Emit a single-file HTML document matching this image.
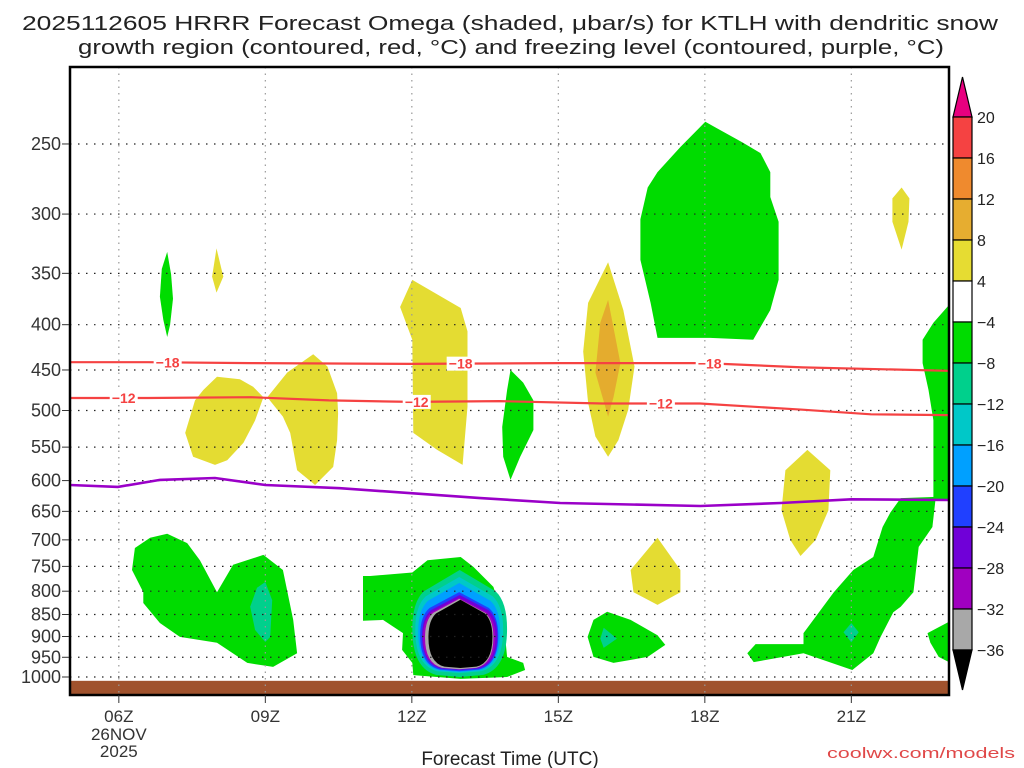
<!DOCTYPE html>
<html><head><meta charset="utf-8"><style>
body{margin:0;background:#fff;}
svg{display:block;font-family:"Liberation Sans",sans-serif;}
</style></head><body>
<svg id="chart" width="1024" height="768" viewBox="0 0 1024 768" xmlns="http://www.w3.org/2000/svg">
<text x="510" y="30" text-anchor="middle" font-size="20" textLength="976" lengthAdjust="spacingAndGlyphs" fill="#222">2025112605 HRRR Forecast Omega (shaded, μbar/s) for KTLH with dendritic snow</text>
<text x="511" y="54" text-anchor="middle" font-size="20" textLength="866" lengthAdjust="spacingAndGlyphs" fill="#222">growth region (contoured, red, °C) and freezing level (contoured, purple, °C)</text>
<g id="plot"></g>
<g id="axes"></g>
<g id="cbar"></g>
<text x="510" y="765" text-anchor="middle" font-size="19" fill="#222">Forecast Time (UTC)</text>
<text x="1015" y="758" text-anchor="end" font-size="15" fill="#e04848" textLength="188" lengthAdjust="spacingAndGlyphs">coolwx.com/models</text>
</svg>
<script>
// ---- data ----
const pressureTicks=[250,300,350,400,450,500,550,600,650,700,750,800,850,900,950,1000];
const timeTicks=[6,9,12,15,18,21];
const timeLabels=["06Z","09Z","12Z","15Z","18Z","21Z"];
const cbarLevels=["20","16","12","8","4","−4","−8","−12","−16","−20","−24","−28","−32","−36"];
const cbarColors=["#f54242","#ef8a2e","#e6ad30","#e6dc32","#ffffff","#00dc00","#00d08c","#00c8c8","#00a0ff","#2040ff","#7000d8","#a000c0","#a8a8a8"];
const surfacePressure=1010;
// omega shaded regions: [hour, hPa]
const yellowRegions=[
 [[8.0,328],[8.14,353],[8.0,368],[7.91,353]],
 [[8.01,458],[8.48,461],[8.75,470],[8.96,483],[8.79,513],[8.55,544],[8.22,569],[7.97,576],[7.52,564],[7.36,530],[7.56,487],[7.73,474]],
 [[9.04,483],[9.45,453],[9.98,432],[10.27,446],[10.47,478],[10.49,504],[10.47,540],[10.39,579],[10.02,607],[9.65,584],[9.51,530],[9.36,508]],
 [[12.01,356],[13.0,383],[13.14,407],[13.14,495],[13.04,576],[12.52,554],[12.03,530],[12.01,416],[11.76,382]],
 [[16.02,340],[16.33,385],[16.56,446],[16.43,499],[16.23,540],[16.02,564],[15.76,535],[15.61,490],[15.51,429],[15.61,378]],
 [[22.03,280],[22.19,288],[22.17,306],[22.03,329],[21.84,306],[21.84,288]],
 [[20.1,554],[20.57,584],[20.53,648],[20.27,700],[19.96,730],[19.75,700],[19.57,648],[19.65,584]],
 [[17.03,696],[17.5,757],[17.5,802],[17.03,829],[16.54,802],[16.48,757]]
];
const orangeRegions=[
 [[16.02,375],[16.27,442],[16.13,483],[16.02,508],[15.76,453],[15.86,398]]
];
const greenRegions=[
 [[6.99,331],[7.07,351],[7.11,374],[7.05,400],[6.99,413],[6.91,395],[6.84,372],[6.88,346]],
 [[14.02,450],[14.28,465],[14.49,487],[14.49,526],[14.22,564],[14.02,599],[13.87,564],[13.85,522],[13.95,474]],
 [[18.01,236],[18.77,249],[19.14,256],[19.34,269],[19.34,287],[19.51,306],[19.51,356],[19.34,385],[18.99,416],[18.11,414],[17.03,414],[16.89,378],[16.68,338],[16.68,304],[16.83,280],[17.03,269],[17.5,252]],
 [[23.0,380],[22.68,398],[22.46,416],[22.46,442],[22.58,474],[22.68,513],[22.68,631],[23.0,631]],
 [[22.01,628],[22.73,626],[22.66,677],[22.38,713],[22.27,802],[22.01,833],[21.86,845],[21.6,901],[21.45,940],[21.02,982],[20.02,940],[19.0,962],[18.87,940],[19.04,918],[20.02,918],[20.02,892],[20.64,802],[21.04,757],[21.45,732],[21.64,677],[21.8,652]],
 [[22.56,892],[23.0,866],[23.0,962],[22.79,949],[22.62,915]],
 [[16.0,844],[16.48,862],[17.03,897],[17.19,920],[16.83,949],[16.13,964],[15.72,949],[15.6,901],[15.72,862]],
 [[6.99,689],[7.4,706],[7.66,738],[8.01,802],[8.34,747],[8.96,728],[9.36,757],[9.57,862],[9.65,940],[9.16,974],[8.63,964],[8.01,915],[7.25,901],[6.84,869],[6.5,825],[6.5,802],[6.27,757],[6.33,715],[6.64,696]],
 [[11.0,769],[11.15,769],[12.01,762],[12.32,738],[13.0,732],[13.26,751],[13.67,791],[13.87,855],[13.95,949],[14.28,964],[14.32,982],[13.95,1000],[13.0,1005],[12.03,995],[12.01,964],[11.8,932],[11.82,892],[11.41,862],[11.0,864]]
];
const tealRegions=[
 [[21.0,869],[21.15,890],[21.0,914],[20.84,890]],
 [[15.93,880],[16.2,905],[15.93,927],[15.86,905]],
 [[9.0,781],[9.14,819],[9.1,901],[9.0,913],[8.79,885],[8.69,833],[8.83,793]]
];
// nested core of strongest ascent near 13Z: [hourLeft, hourRight, pTop, pBottom]
const coreColors=["#00d08c","#00c8c8","#00a0ff","#2040ff","#7000d8","#a000c0","#a8a8a8","#000000"];
const coreLeft=[12.01,12.07,12.13,12.17,12.21,12.23,12.27,12.34];
const coreRight=[13.95,13.87,13.81,13.77,13.75,13.71,13.67,13.65];
const coreTop=[757,771,783,802,808,814,816,818];
const coreBottom=[1000,990,987,985,982,980,980,977];
// contour lines
const iso18Hours=[5,6.6,8.7,12,15,18,20,23];
const iso18P=[441,441,442,443,442,442,447,451];
const iso18Labels=[7.0,13.0,18.1];
const iso12Hours=[5,6.6,8.7,10.3,12,13.8,15.9,17.9,20,21.4,23];
const iso12P=[484,484,483,487,489,488,491,491,499,505,506];
const iso12Labels=[6.1,12.1,17.1];
const frzHours=[5,5.98,6.84,7.97,9,10.53,13.4,15.04,17.91,19.55,21.0,23];
const frzP=[607,610,599,596,607,612,628,636,641,636,630,631];

// ---- scales ----
const X=h=>70+(h-5)*(879/18);
const Y=p=>677-384.5*Math.log(1000/p);
const NS="http://www.w3.org/2000/svg";
function mk(parent,tag,attrs){const e=document.createElementNS(NS,tag);for(const k in attrs)e.setAttribute(k,attrs[k]);parent.appendChild(e);return e;}
const plot=document.getElementById('plot'),axes=document.getElementById('axes'),cbar=document.getElementById('cbar');

function poly(pts,fill,name){
  const e=mk(plot,'polygon',{points:pts.map(q=>X(q[0]).toFixed(1)+','+Y(q[1]).toFixed(1)).join(' '),fill:fill});
  
  
}
yellowRegions.forEach((r,i)=>poly(r,'#e4dc32','omega-positive-4-8-'+i));
orangeRegions.forEach((r,i)=>poly(r,'#e4ac2e','omega-positive-8-12-'+i));
greenRegions.forEach((r,i)=>poly(r,'#00dc00','omega-negative-4-8-'+i));
tealRegions.forEach((r,i)=>poly(r,'#00d08c','omega-negative-8-12-'+i));
coreColors.forEach((c,i)=>{
  const l=X(coreLeft[i]),r=X(coreRight[i]),t=Y(coreTop[i]),b=Y(coreBottom[i]);
  const cx=(l+r)/2,w=r-l,h=b-t;
  const d=`M${cx},${t} L${r-0.12*w},${t+0.2*h} Q${r},${t+0.3*h} ${r},${t+0.55*h} Q${r},${b-0.08*h} ${cx+0.25*w},${b-0.02*h} L${cx},${b} L${cx-0.25*w},${b-0.02*h} Q${l},${b-0.08*h} ${l},${t+0.55*h} Q${l},${t+0.3*h} ${l+0.12*w},${t+0.2*h} Z`;
  const e=mk(plot,'path',{d:d,fill:c});
  
  
});
// ground
const g=mk(plot,'rect',{x:70,y:Y(surfacePressure),width:879,height:695-Y(surfacePressure),fill:'#a0522d'});



// grid
pressureTicks.forEach(p=>{
  const e=mk(plot,'line',{x1:70,x2:949,y1:Y(p),y2:Y(p),stroke:'#222','stroke-width':1.2,'stroke-dasharray':'1.5 6.5'});
  
  
});
timeTicks.forEach(h=>{
  const e=mk(plot,'line',{x1:X(h),x2:X(h),y1:67,y2:695,stroke:'#999','stroke-width':1.2,'stroke-dasharray':'1.5 5'});
  
  
});

// contour lines
function line(hs,ps,color,w,name){
  const e=mk(plot,'polyline',{points:hs.map((h,i)=>X(h).toFixed(1)+','+Y(ps[i]).toFixed(1)).join(' '),fill:'none',stroke:color,'stroke-width':w});
  
  
}
function interp(hs,ps,h){for(let i=0;i<hs.length-1;i++){if(h>=hs[i]&&h<=hs[i+1]){const t=(h-hs[i])/(hs[i+1]-hs[i]);return ps[i]+t*(ps[i+1]-ps[i]);}}return ps[ps.length-1];}
line(iso18Hours,iso18P,'#f54242',2.2,'isotherm-minus-18');
line(iso12Hours,iso12P,'#f54242',2.2,'isotherm-minus-12');
line(frzHours,frzP,'#9a00c8',2.6,'freezing-level');
function labels(hs,ps,list,txt,name){
  list.forEach((h,i)=>{
    const x=X(h),y=Y(interp(hs,ps,h));
    const r=mk(plot,'rect',{x:x-14,y:y-7,width:28,height:14,fill:'#fff'});
    
    
    const t=mk(plot,'text',{x:x,y:y+5,'text-anchor':'middle','font-size':14,'font-weight':'bold',fill:'#f54242'});
    t.textContent=txt;
    
    
  });
}
labels(iso18Hours,iso18P,iso18Labels,'−18','isotherm-minus-18');
labels(iso12Hours,iso12P,iso12Labels,'−12','isotherm-minus-12');

// axes frame
const fr=mk(axes,'rect',{x:70,y:67,width:879,height:628,fill:'none',stroke:'#000','stroke-width':2.5});


pressureTicks.forEach(p=>{
  const tk=mk(axes,'line',{x1:62,x2:69,y1:Y(p),y2:Y(p),stroke:'#333','stroke-width':1});
  
  
  const t=mk(axes,'text',{x:61,y:Y(p)+6,'text-anchor':'end','font-size':18,fill:'#333'});
  t.textContent=p;
  
  
});
timeTicks.forEach((h,i)=>{
  const tk=mk(axes,'line',{x1:X(h),x2:X(h),y1:695,y2:703,stroke:'#333','stroke-width':1});
  
  
  const t=mk(axes,'text',{x:X(h),y:722,'text-anchor':'middle','font-size':17,fill:'#333'});
  t.textContent=timeLabels[i];
  
  
});
[['26NOV',740],['2025',757]].forEach(a=>{
  const t=mk(axes,'text',{x:X(6),y:a[1],'text-anchor':'middle','font-size':17,fill:'#333'});
  t.textContent=a[0];
  
  
});

// colorbar
const cbTop=117,cbStep=41,cbX=953,cbW=19;
const up=mk(cbar,'polygon',{points:`${cbX},${cbTop} ${cbX+cbW},${cbTop} ${cbX+cbW/2},${cbTop-40}`,fill:'#e8007f',stroke:'#000','stroke-width':1.2});


cbarColors.forEach((c,i)=>{
  const r=mk(cbar,'rect',{x:cbX,y:cbTop+i*cbStep,width:cbW,height:cbStep,fill:c,stroke:'#000','stroke-width':1.2});
  
  
});
const cbBot=cbTop+cbarColors.length*cbStep;
const dn=mk(cbar,'polygon',{points:`${cbX},${cbBot} ${cbX+cbW},${cbBot} ${cbX+cbW/2},${cbBot+40}`,fill:'#000',stroke:'#000','stroke-width':1.2});


cbarLevels.forEach((l,i)=>{
  const t=mk(cbar,'text',{x:977,y:cbTop+i*cbStep+6,'font-size':16,fill:'#222'});
  t.textContent=l;
  
  
});
</script>
</body></html>
